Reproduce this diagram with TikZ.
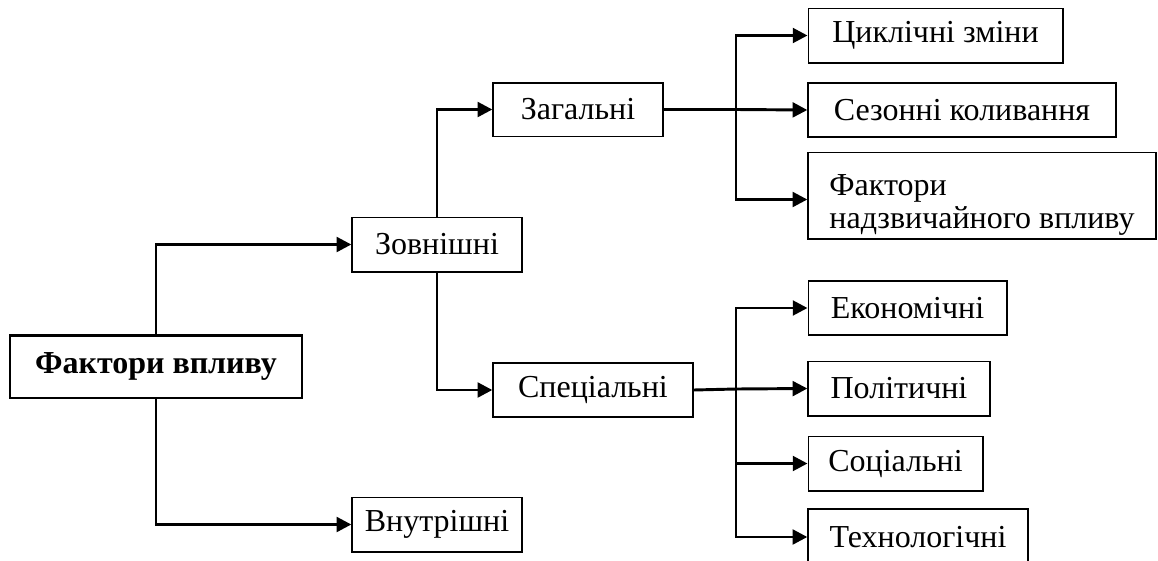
\documentclass[tikz,border=0pt]{standalone}
\usepackage{fontspec}
\setmainfont{Liberation Serif}
\usetikzlibrary{arrows.meta}
\begin{document}
\begin{tikzpicture}[x=0.75pt,y=-0.75pt,
  box/.style={draw,line width=1pt,inner sep=0pt,font=\fontsize{24}{26}\selectfont},
  mainbox/.style={draw,line width=2pt,inner sep=0pt,font=\fontsize{24}{26}\selectfont\bfseries},
  conn/.style={line width=2.2pt,-{Triangle[length=11pt,width=11pt]}},
  plain/.style={line width=2.2pt}]
\useasboundingbox (0,0) rectangle (1158,561);
\clip (0,0) rectangle (1158,561);
\node[mainbox,minimum width=219pt,minimum height=47pt] (main) at (156,366.5) {Фактори впливу};
\node[box,minimum width=127.5pt,minimum height=41pt] (zovn) at (437,244.5) {Зовнішні};
\node[box,minimum width=127.5pt,minimum height=41pt] (vnut) at (437,524.5) {Внутрішні};
\node[box,minimum width=127.5pt,minimum height=40pt] (zag) at (578,109.5) {Загальні};
\node[box,minimum width=150pt,minimum height=40.5pt] (spec) at (593,390) {Спеціальні};
\node[box,minimum width=191pt,minimum height=41pt] (cycl) at (935.5,35.5) {Циклічні зміни};
\node[box,minimum width=231pt,minimum height=40.5pt] (sez) at (962,110) {Сезонні коливання};
\node[box,minimum width=261pt,minimum height=65pt,align=left,font=\fontsize{24}{25}\selectfont] (nadz) at (982,195.5) {\rule{0pt}{30pt}Фактори\\надзвичайного впливу};
\node[box,minimum width=149pt,minimum height=40.5pt] (ekon) at (907.5,308) {Економічні};
\node[box,minimum width=136.5pt,minimum height=41pt] (polit) at (899,388.5) {Політичні};
\node[box,minimum width=131pt,minimum height=41pt] (soc) at (895.5,463.5) {Соціальні};
\node[box,minimum width=165pt,minimum height=42pt] (tech) at (918,537) {Технологічні};
\coordinate (jz) at (736,109.5);
\coordinate (js) at (736,389);
\draw[conn] (main.north) |- (zovn.west);
\draw[conn] (main.south) |- (vnut.west);
\draw[conn] (zovn.north) |- (zag.west);
\draw[conn] (zovn.south) |- (spec.west);
\draw[plain] (zag.east) -- (jz);
\draw[conn] (jz) |- (cycl.west);
\draw[conn] (jz) -- (sez.west);
\draw[conn] (jz) |- ([yshift=-3pt]nadz.west);
\draw[plain] (spec.east) -- (js);
\draw[conn] (js) |- (ekon.west);
\draw[conn] (js) -- (polit.west);
\draw[conn] (js) |- (soc.west);
\draw[conn] (js) |- (tech.west);
\end{tikzpicture}
\end{document}
